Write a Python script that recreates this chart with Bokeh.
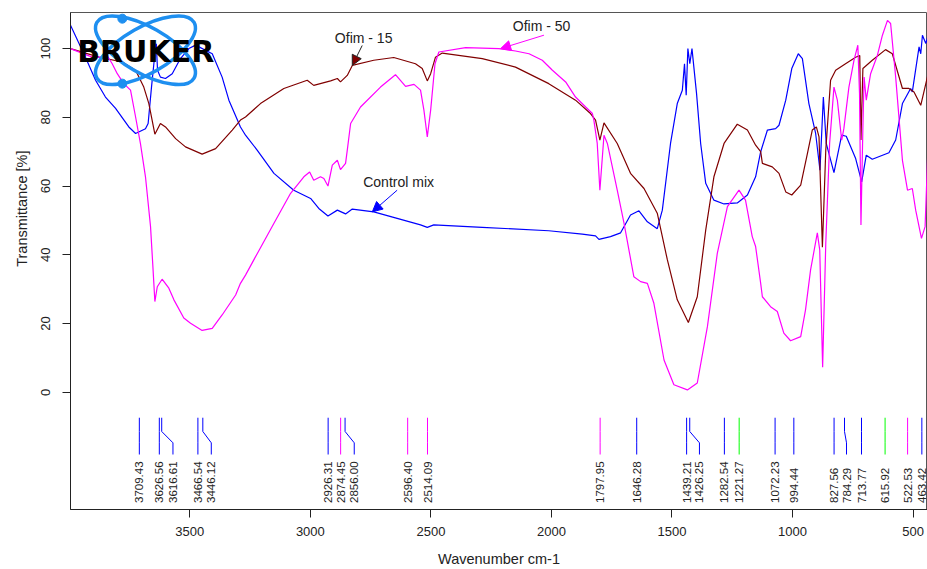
import math
from bokeh.plotting import figure
from bokeh.models import Range1d, FixedTicker, Arrow, NormalHead, Title
from bokeh.core.properties import value
from bokeh.embed import file_html
from bokeh.resources import INLINE

# ---------------- data ----------------
control_wn = [3995, 3933, 3891, 3850, 3808, 3753, 3725, 3684, 3673, 3659, 3645, 3639, 3634, 3622,
              3601, 3573, 3539, 3504, 3476, 3407, 3366, 3338, 3290, 3269, 3220, 3151, 3069, 2999,
              2965, 2927, 2888, 2854, 2826, 2737, 2640, 2543, 2515, 2488, 2287, 2011, 1872, 1817,
              1803, 1755, 1713, 1672, 1637, 1602, 1561, 1540, 1506, 1478, 1457, 1448, 1441, 1434,
              1426, 1417, 1398, 1381, 1360, 1326, 1284, 1229, 1187, 1153, 1132, 1104, 1070, 1056,
              1028, 1003, 976, 959, 932, 904, 886, 872, 860, 828, 796, 777, 738, 713, 694, 669,
              600, 572, 544, 510, 503, 475, 468, 461, 447, 439]
control_t = [106.8, 97.5, 90.8, 85.9, 82.6, 77.2, 75.3, 76.7, 78.2, 88.8, 98.5, 101.4, 93.7, 91.7,
             91.3, 92.7, 97.1, 100.0, 101.0, 98.5, 91.7, 85.0, 77.2, 74.8, 70.4, 63.7, 58.8, 56.4,
             53.5, 51.3, 53.0, 51.9, 53.3, 52.5, 50.6, 48.7, 48.0, 48.7, 48.0, 47.0, 46.0, 45.5,
             44.5, 45.3, 46.4, 51.6, 52.8, 49.6, 47.6, 53.0, 72.4, 84.0, 87.9, 95.6, 86.4, 100.0,
             95.6, 100.0, 86.9, 72.4, 60.8, 55.9, 54.8, 55.1, 57.4, 62.7, 70.0, 76.3, 76.7, 77.7,
             85.0, 94.2, 98.5, 97.1, 84.0, 75.3, 64.6, 85.9, 72.4, 63.9, 74.8, 74.5, 68.0, 61.2, 69.0, 67.8,
             69.7, 73.4, 84.0, 88.4, 87.4, 100.5, 98.5, 103.9, 101.5, 103.4]

ofim15_wn = [3995, 3877, 3780, 3725, 3691, 3670, 3645, 3622, 3601, 3559, 3518, 3449, 3393, 3324,
             3290, 3269, 3207, 3110, 3013, 2986, 2916, 2888, 2875, 2847, 2826, 2737, 2654, 2564,
             2536, 2515, 2501, 2481, 2453, 2287, 2149, 2011, 1900, 1838, 1817, 1799, 1782, 1727,
             1672, 1616, 1561, 1519, 1478, 1432, 1395, 1360, 1326, 1284, 1229, 1187, 1153, 1132,
             1125, 1084, 1056, 1028, 1003, 966, 938, 918, 901, 890, 876, 862, 842, 821, 780, 738,
             721, 716, 708, 669, 614, 586, 544, 517, 496, 468, 439]
ofim15_t = [100.0, 97.5, 96.1, 93.7, 88.8, 84.0, 75.1, 78.2, 77.2, 73.8, 71.4, 69.3, 70.9, 76.3,
            79.2, 80.1, 84.0, 88.4, 90.8, 89.3, 90.6, 91.3, 90.3, 92.2, 95.1, 96.6, 97.4, 95.6,
            94.2, 90.6, 92.7, 97.5, 98.7, 97.1, 94.6, 89.8, 85.0, 81.1, 79.2, 73.4, 78.4, 72.4,
            63.7, 59.3, 52.1, 38.5, 26.9, 20.3, 27.8, 47.2, 62.7, 72.4, 78.0, 76.3, 71.9, 70.0,
            66.6, 65.6, 63.7, 58.3, 57.4, 60.3, 69.5, 76.3, 77.2, 74.3, 42.2, 70.4, 90.8, 93.7, 95.6, 97.5,
            98.0, 73.4, 94.2, 96.6, 99.7, 98.5, 88.4, 88.4, 87.4, 83.5, 92.2]

ofim50_wn = [3995, 3905, 3863, 3843, 3822, 3801, 3774, 3746, 3725, 3705, 3684, 3663, 3654, 3645,
             3635, 3615, 3587, 3566, 3525, 3497, 3449, 3407, 3366, 3310, 3290, 3269, 3220, 3151,
             3082, 3027, 3003, 2986, 2958, 2944, 2927, 2909, 2888, 2875, 2854, 2847, 2833, 2792,
             2709, 2647, 2605, 2570, 2543, 2529, 2515, 2501, 2483, 2467, 2356, 2218, 2149, 2093,
             2038, 1996, 1941, 1900, 1858, 1830, 1824, 1810, 1799, 1782, 1768, 1727, 1699, 1658,
             1630, 1602, 1575, 1533, 1492, 1436, 1395, 1353, 1312, 1270, 1222, 1195, 1167, 1153,
             1132, 1125, 1091, 1063, 1036, 1008, 966, 946, 925, 897, 887, 875, 862, 846, 828, 814,
             796, 787, 766, 745, 729, 722, 716, 708, 703, 694, 676, 648, 627, 606, 593, 572, 544,
             523, 503, 489, 465, 450, 439]
ofim50_t = [100.0, 97.5, 97.5, 98.0, 95.6, 92.7, 89.8, 87.9, 80.1, 72.4, 62.7, 48.2, 37.5, 26.4,
            30.7, 32.9, 30.3, 26.9, 21.6, 20.1, 18.0, 18.6, 22.5, 28.3, 31.7, 34.1, 40.4, 49.2,
            57.9, 62.7, 64.1, 61.7, 62.7, 62.2, 60.0, 66.1, 67.5, 64.8, 66.6, 70.4, 78.2, 83.0,
            88.8, 92.4, 89.0, 89.6, 87.9, 82.1, 74.3, 82.1, 95.6, 99.0, 100.3, 100.0, 99.3, 98.5,
            96.6, 93.7, 90.3, 85.9, 83.0, 81.1, 79.2, 72.4, 58.8, 74.8, 72.4, 58.8, 49.2, 33.6,
            32.2, 31.7, 25.9, 9.4, 2.2, 0.7, 2.7, 19.1, 40.4, 54.0, 58.8, 55.9, 45.3, 42.4,
            31.7, 27.8, 24.9, 23.5, 17.2, 15.0, 16.2, 24.0, 35.6, 46.4, 41.4, 7.3, 43.3, 72.4, 88.8, 85.0,
            73.4, 76.7, 88.8, 96.6, 101.0, 86.9, 48.7, 77.2, 91.7, 85.0, 92.7, 98.0, 103.9, 108.2, 107.3, 91.7, 67.5,
            58.8, 59.3, 53.0, 44.8, 48.2, 69.5]

peak_wn = [3709.43, 3626.56, 3616.61, 3466.54, 3446.12, 2926.31, 2874.45, 2856.00, 2596.40, 2514.09,
           1797.95, 1646.28, 1439.21, 1426.25, 1282.54, 1221.27, 1072.23, 994.44, 827.56, 784.29,
           713.77, 615.92, 522.53, 463.42]
peak_label_wn = [3709.43, 3626.56, 3570.0, 3466.54, 3411.0, 2926.31, 2874.45, 2818.0, 2596.40, 2514.09,
                 1797.95, 1646.28, 1439.21, 1386.0, 1282.54, 1221.27, 1072.23, 994.44, 827.56, 776.0,
                 713.77, 615.92, 522.53, 463.42]
peak_color = ["#0000ff", "#0000ff", "#0000ff", "#0000ff", "#0000ff", "#0000ff", "#ff00ff", "#0000ff",
              "#ff00ff", "#ff00ff", "#ff00ff", "#0000ff", "#0000ff", "#0000ff", "#0000ff", "#00ff00",
              "#0000ff", "#0000ff", "#0000ff", "#0000ff", "#0000ff", "#00ff00", "#ff00ff", "#0000ff"]

x_ticks = [3500, 3000, 2500, 2000, 1500, 1000, 500]
y_ticks = [0, 20, 40, 60, 80, 100]

FONT = "Liberation Sans"

p = figure(width=927, height=569, x_range=Range1d(3995, 440), y_range=Range1d(-34.1, 110.5),
           output_backend="svg", toolbar_location=None,
           min_border_left=70, min_border_right=0, min_border_top=12, min_border_bottom=59)
p.grid.visible = False
p.outline_line_color = "#555555"
p.background_fill_color = "white"
p.border_fill_color = "white"

for ax, ticks in ((p.xaxis, x_ticks), (p.yaxis, y_ticks)):
    ax.ticker = FixedTicker(ticks=ticks)
    ax.major_tick_out = 8
    ax.major_tick_in = 0
    ax.minor_tick_line_color = None
    ax.axis_line_color = "#222222"
    ax.major_tick_line_color = "#222222"
    ax.major_label_text_font = FONT
    ax.major_label_text_font_size = "13px"
    ax.major_label_text_color = "#222222"

p.xaxis.major_label_standoff = 9
p.xaxis.axis_label = "Wavenumber cm-1"
p.xaxis.axis_label_text_font = FONT
p.xaxis.axis_label_text_font_style = "normal"
p.xaxis.axis_label_text_font_size = "14.5px"
p.xaxis.axis_label_text_color = "#222222"
p.xaxis.axis_label_standoff = 12
p.yaxis.major_label_orientation = "vertical"
p.yaxis.major_label_standoff = 12

# y axis title, placed over the spectrum region as in the reference
p.add_layout(Title(text="Transmittance [%]", align="right", offset=138, standoff=18,
                   text_font=FONT, text_font_size="14.5px", text_font_style="normal",
                   text_color="#222222"), "left")

# spectra
p.line(control_wn, control_t, line_color="#0000ff", line_width=1.2)
p.line(ofim15_wn, ofim15_t, line_color="#800000", line_width=1.2)
p.line(ofim50_wn, ofim50_t, line_color="#ff00ff", line_width=1.2)

# peak markers
y_top, y_k1, y_k2, y_bot, y_lab = -7.4, -11.4, -14.7, -18.1, -32.2
xs = [[w, w, lw, lw] for w, lw in zip(peak_wn, peak_label_wn)]
ys = [[y_top, y_k1, y_k2, y_bot] for _ in peak_wn]
p.multi_line(xs, ys, line_color=peak_color, line_width=1)
p.text(x=peak_label_wn, y=[y_lab] * len(peak_wn), text=[f"{w:.2f}" for w in peak_wn],
       angle=math.pi / 2, text_align="left", text_baseline="middle",
       text_font=value(FONT), text_font_size="11.5px", text_color="#222222")

# series annotations
ann_text = ["Ofim - 15", "Ofim - 50", "Control mix"]
ann_x = [2779, 2041, 2634]
ann_y = [103.1, 106.5, 61.3]
p.text(x=ann_x, y=ann_y, text=ann_text, text_align="center", text_baseline="middle",
       text_font=value(FONT), text_font_size="14px", text_color="#222222")
arrows = [((2785, 100.9), (2826, 95.1), "#800000", "#222222"),
          ((2031, 103.9), (2211, 100.0), "#ff00ff", "#ff00ff"),
          ((2640, 58.8), (2743, 52.5), "#0000ff", "#0000ff")]
for (x0, y0), (x1, y1), fc, lc in arrows:
    p.add_layout(Arrow(end=NormalHead(size=10, fill_color=fc, line_color=lc, line_width=1),
                       x_start=x0, y_start=y0, x_end=x1, y_end=y1, line_color=lc, line_width=1))

# Bruker logo
logo_c = (3684, 99.5)
p.ellipse(x=[logo_c[0]] * 2, y=[logo_c[1]] * 2, width=112, height=46,
          width_units="screen", height_units="screen", angle=[-0.52, 0.52],
          fill_color=None, line_color="#1e8ff0", line_width=3.5)
p.scatter(x=[3780, 3780], y=[108.7, 89.8], size=9, fill_color="#1e8ff0", line_color="#1e8ff0")
p.text(x=[3683], y=[99.1], text=["BRUKER"], text_align="center", text_baseline="middle",
       text_font=value("DejaVu Sans"), text_font_style="bold", text_font_size="30px",
       text_color="black")

open("out.html", "w").write(file_html(p, INLINE))
